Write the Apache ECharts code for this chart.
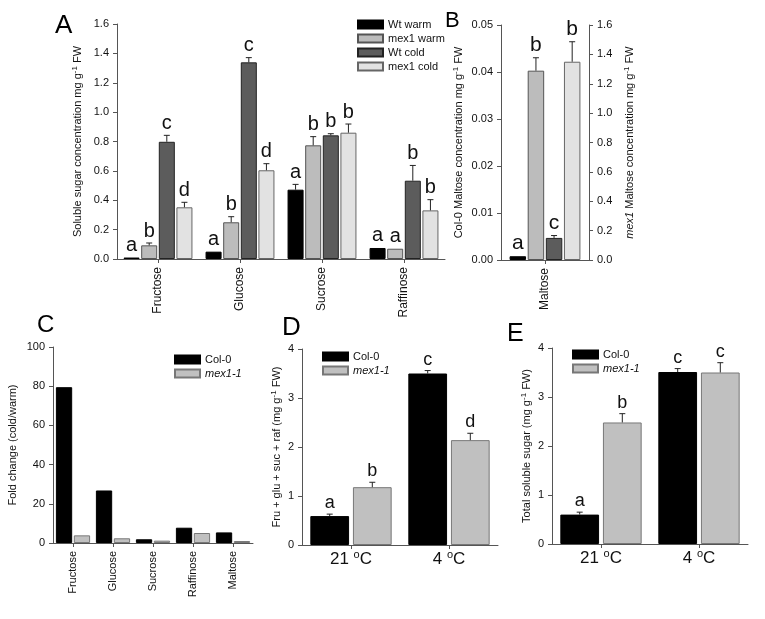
<!DOCTYPE html>
<html>
<head>
<meta charset="utf-8">
<script src="https://cdn.jsdelivr.net/npm/echarts@6/dist/echarts.min.js"></script>
<style>html,body{margin:0;padding:0;background:#fff}#c{width:765px;height:619px}</style>
</head>
<body>
<div id="c"></div>
<script>
// ---------- Panel A data ----------
const sugarsA = ['Fructose', 'Glucose', 'Sucrose', 'Raffinose'];
const wtWarm = [0.010, 0.050, 0.472, 0.075];
const wtWarmErr = [0.002, 0.004, 0.036, 0.003];
const wtWarmSig = ['a', 'a', 'a', 'a'];
const mexWarm = [0.093, 0.250, 0.774, 0.070];
const mexWarmErr = [0.016, 0.038, 0.059, 0.003];
const mexWarmSig = ['b', 'b', 'b', 'a'];
const wtCold = [0.798, 1.339, 0.842, 0.533];
const wtColdErr = [0.044, 0.032, 0.011, 0.104];
const wtColdSig = ['c', 'c', 'b', 'b'];
const mexCold = [0.352, 0.604, 0.860, 0.331];
const mexColdErr = [0.034, 0.045, 0.059, 0.073];
const mexColdSig = ['d', 'd', 'b', 'b'];
const yTicksA = [0, 1.6, 0.2];

// ---------- Panel B data ----------
const maltoseCat = ['Maltose'];
const maltWtWarm = [0.0008], maltWtWarmErr = [0.0001], maltWtWarmSig = ['a'];
const maltMexWarm = [1.289], maltMexWarmErr = [0.088], maltMexWarmSig = ['b'];
const maltWtCold = [0.0047], maltWtColdErr = [0.0005], maltWtColdSig = ['c'];
const maltMexCold = [1.350], maltMexColdErr = [0.136], maltMexColdSig = ['b'];
const yTicksBLeft = [0, 0.05, 0.01];
const yTicksBRight = [0, 1.6, 0.2];

// ---------- Panel C data ----------
const foldCats = ['Fructose', 'Glucose', 'Sucrose', 'Raffinose', 'Maltose'];
const foldCol0 = [79.5, 26.8, 1.9, 7.8, 5.4];
const foldMex = [3.9, 2.4, 1.2, 5.1, 1.0];
const yTicksC = [0, 100, 20];

// ---------- Panel D data ----------
const tempCats = ['21', '4'];
const sumCol0 = [0.59, 3.50], sumCol0Err = [0.04, 0.06], sumCol0Sig = ['a', 'c'];
const sumMex = [1.18, 2.14], sumMexErr = [0.10, 0.14], sumMexSig = ['b', 'd'];
const yTicksD = [0, 4, 1];

// ---------- Panel E data ----------
const totCol0 = [0.60, 3.51], totCol0Err = [0.05, 0.07], totCol0Sig = ['a', 'c'];
const totMex = [2.48, 3.50], totMexErr = [0.18, 0.20], totMexSig = ['b', 'c'];
const yTicksE = [0, 4, 1];

// ---------- styles ----------
const FONT = 'Liberation Sans, Arial, sans-serif';
const TXT = '#111';
const AX = '#555';
const S = {
  wtWarm: { color: '#000', borderColor: '#000', borderWidth: 1 },
  mexWarm: { color: '#bcbcbc', borderColor: '#555', borderWidth: 1 },
  wtCold: { color: '#5c5c5c', borderColor: '#222', borderWidth: 1 },
  mexCold: { color: '#e2e2e2', borderColor: '#666', borderWidth: 1 },
  col0: { color: '#000', borderColor: '#000', borderWidth: 1 },
  mex: { color: '#c0c0c0', borderColor: '#777', borderWidth: 1 }
};

function errSeries(xi, yi, vals, errs, sig, n, i, catGap, barGap, fs) {
  return {
    type: 'custom', xAxisIndex: xi, yAxisIndex: yi, silent: true, z: 5,
    name: 'err' + xi + '_' + yi + '_' + i,
    data: vals.map((v, k) => [k, v, errs[k]]),
    encode: { x: 0, y: 1 },
    renderItem: function (params, api) {
      const cat = api.value(0), v = api.value(1), e = api.value(2);
      const base = api.coord([cat, v]);
      const top = api.coord([cat, v + e]);
      const band = api.size([1, 0])[0];
      const total = band * (1 - catGap);
      const w = total / (n + (n - 1) * barGap);
      const x = base[0] - total / 2 + i * w * (1 + barGap) + w / 2;
      const children = [];
      if (base[1] - top[1] > 0.8) {
        children.push({ type: 'line', shape: { x1: x, y1: base[1], x2: x, y2: top[1] }, style: { stroke: '#222', lineWidth: 1 } });
        children.push({ type: 'line', shape: { x1: x - 3, y1: top[1], x2: x + 3, y2: top[1] }, style: { stroke: '#222', lineWidth: 1 } });
      }
      children.push({ type: 'text', style: { text: sig[params.dataIndex], x: x, y: top[1] - 2, align: 'center', verticalAlign: 'bottom', fontSize: fs, fontFamily: FONT, fill: TXT } });
      return { type: 'group', children: children };
    }
  };
}

function bar(name, xi, yi, data, style, catGap, barGap) {
  return {
    type: 'bar', name: name, xAxisIndex: xi, yAxisIndex: yi, data: data,
    itemStyle: style, barCategoryGap: (catGap * 100) + '%', barGap: (barGap * 100) + '%',
    animation: false
  };
}

const supRich = {
  sup: { fontSize: 8, verticalAlign: 'top', fontFamily: FONT, color: TXT, lineHeight: 14 },
  it: { fontStyle: 'italic', fontSize: 11, fontFamily: FONT, color: TXT, lineHeight: 14 }
};
function nameStyle(fs) {
  return { fontSize: fs, fontFamily: FONT, color: TXT, lineHeight: 14, rich: supRich };
}

function yAxis(gi, t, fmt, extra) {
  return Object.assign({
    type: 'value', gridIndex: gi, min: t[0], max: t[1], interval: t[2],
    splitLine: { show: false },
    axisLine: { show: true, lineStyle: { color: AX, width: 1 } },
    axisTick: { show: true, length: 4, inside: false, lineStyle: { color: AX } },
    axisLabel: { fontSize: 11, fontFamily: FONT, color: TXT, margin: 8, formatter: fmt },
    nameLocation: 'middle', nameRotate: 90
  }, extra || {});
}
function xAxis(gi, cats, labelExtra) {
  return {
    type: 'category', gridIndex: gi, data: cats,
    axisLine: { show: true, lineStyle: { color: AX, width: 1 } },
    axisTick: { show: true, alignWithLabel: true, length: 4, lineStyle: { color: AX } },
    axisLabel: Object.assign({ fontSize: 12, fontFamily: FONT, color: TXT, interval: 0, rotate: 90, margin: 8 }, labelExtra || {})
  };
}

const gA = [0.16, 0.1], gB = [0.195, 0.1], gC = [0.145, 0.1], gD = [0.17, 0.1];

const legendText = { fontSize: 11, fontFamily: FONT, color: TXT, rich: { it: { fontStyle: 'italic', fontSize: 11, fontFamily: FONT, color: TXT } } };
function smallLegend(left, top) {
  return { data: ['Col-0', 'mex1-1'], orient: 'vertical', left: left, top: top,
    itemWidth: 25, itemHeight: 8, itemGap: 3, icon: 'rect', selectedMode: false,
    formatter: n => n === 'mex1-1' ? '{it|mex1-1}' : n, textStyle: legendText };
}

const option = {
  animation: false,
  backgroundColor: '#fff',
  textStyle: { fontFamily: FONT },
  grid: [
    { left: 117, top: 24, width: 328, height: 235, outerBoundsMode: 'none' },
    { left: 501, top: 25, width: 88, height: 235, outerBoundsMode: 'none' },
    { left: 53, top: 347, width: 200, height: 196, outerBoundsMode: 'none' },
    { left: 302, top: 349, width: 196, height: 196, outerBoundsMode: 'none' },
    { left: 552, top: 348, width: 196, height: 196, outerBoundsMode: 'none' }
  ],
  xAxis: [
    xAxis(0, sugarsA),
    xAxis(1, maltoseCat),
    xAxis(2, foldCats, { fontSize: 11 }),
    xAxis(3, tempCats, { rotate: 0, fontSize: 17, margin: 4, formatter: v => v + ' {s|o}C',
      rich: { s: { fontSize: 11, verticalAlign: 'top', lineHeight: 20, fontFamily: FONT, color: TXT } }, lineHeight: 20 }),
    xAxis(4, tempCats, { rotate: 0, fontSize: 17, margin: 4, formatter: v => v + ' {s|o}C',
      rich: { s: { fontSize: 11, verticalAlign: 'top', lineHeight: 20, fontFamily: FONT, color: TXT } }, lineHeight: 20 })
  ],
  yAxis: [
    yAxis(0, yTicksA, v => v.toFixed(1), { name: 'Soluble sugar concentration mg g{sup|-1} FW', nameGap: 32, nameTextStyle: nameStyle(11) }),
    yAxis(1, yTicksBLeft, v => v.toFixed(2), { name: 'Col-0 Maltose concentration mg g{sup|-1} FW', nameGap: 35, nameTextStyle: nameStyle(11) }),
    yAxis(1, yTicksBRight, v => v.toFixed(1), { position: 'right', name: '{it|mex1} Maltose concentration mg g{sup|-1} FW', nameGap: 34, nameTextStyle: nameStyle(11) }),
    yAxis(2, yTicksC, v => String(v), { name: 'Fold change (cold/warm)', nameGap: 33, nameTextStyle: nameStyle(11) }),
    yAxis(3, yTicksD, v => String(v), { name: 'Fru + glu + suc + raf (mg g{sup|-1} FW)', nameGap: 16, nameTextStyle: nameStyle(11) }),
    yAxis(4, yTicksE, v => String(v), { name: 'Total soluble sugar (mg g{sup|-1} FW)', nameGap: 16, nameTextStyle: nameStyle(11) })
  ],
  legend: [
    { data: ['Wt warm', 'mex1 warm', 'Wt cold', 'mex1 cold'], orient: 'vertical', left: 352, top: 14,
      itemWidth: 25, itemHeight: 8, itemGap: 3, icon: 'rect', selectedMode: false,
      textStyle: { fontSize: 11, fontFamily: FONT, color: TXT } },
    smallLegend(169, 349),
    smallLegend(317, 346),
    smallLegend(567, 344)
  ],
  graphic: [
    { type: 'text', left: 55, top: 13, style: { text: 'A', fontSize: 26, fontFamily: FONT, fill: '#000' } },
    { type: 'text', left: 445, top: 10, style: { text: 'B', fontSize: 22, fontFamily: FONT, fill: '#000' } },
    { type: 'text', left: 37, top: 313, style: { text: 'C', fontSize: 24, fontFamily: FONT, fill: '#000' } },
    { type: 'text', left: 282, top: 315, style: { text: 'D', fontSize: 26, fontFamily: FONT, fill: '#000' } },
    { type: 'text', left: 507, top: 322, style: { text: 'E', fontSize: 25, fontFamily: FONT, fill: '#000' } }
  ],
  series: [
    // A
    bar('Wt warm', 0, 0, wtWarm, S.wtWarm, gA[0], gA[1]),
    bar('mex1 warm', 0, 0, mexWarm, S.mexWarm, gA[0], gA[1]),
    bar('Wt cold', 0, 0, wtCold, S.wtCold, gA[0], gA[1]),
    bar('mex1 cold', 0, 0, mexCold, S.mexCold, gA[0], gA[1]),
    errSeries(0, 0, wtWarm, wtWarmErr, wtWarmSig, 4, 0, gA[0], gA[1], 20),
    errSeries(0, 0, mexWarm, mexWarmErr, mexWarmSig, 4, 1, gA[0], gA[1], 20),
    errSeries(0, 0, wtCold, wtColdErr, wtColdSig, 4, 2, gA[0], gA[1], 20),
    errSeries(0, 0, mexCold, mexColdErr, mexColdSig, 4, 3, gA[0], gA[1], 20),
    // B
    bar('Wt warm', 1, 1, maltWtWarm, S.wtWarm, gB[0], gB[1]),
    bar('mex1 warm', 1, 2, maltMexWarm, S.mexWarm, gB[0], gB[1]),
    bar('Wt cold', 1, 1, maltWtCold, S.wtCold, gB[0], gB[1]),
    bar('mex1 cold', 1, 2, maltMexCold, S.mexCold, gB[0], gB[1]),
    errSeries(1, 1, maltWtWarm, maltWtWarmErr, maltWtWarmSig, 4, 0, gB[0], gB[1], 21),
    errSeries(1, 2, maltMexWarm, maltMexWarmErr, maltMexWarmSig, 4, 1, gB[0], gB[1], 21),
    errSeries(1, 1, maltWtCold, maltWtColdErr, maltWtColdSig, 4, 2, gB[0], gB[1], 21),
    errSeries(1, 2, maltMexCold, maltMexColdErr, maltMexColdSig, 4, 3, gB[0], gB[1], 21),
    // C
    bar('Col-0', 2, 3, foldCol0, S.col0, gC[0], gC[1]),
    bar('mex1-1', 2, 3, foldMex, S.mex, gC[0], gC[1]),
    // D
    bar('Col-0', 3, 4, sumCol0, S.col0, gD[0], gD[1]),
    bar('mex1-1', 3, 4, sumMex, S.mex, gD[0], gD[1]),
    errSeries(3, 4, sumCol0, sumCol0Err, sumCol0Sig, 2, 0, gD[0], gD[1], 18),
    errSeries(3, 4, sumMex, sumMexErr, sumMexSig, 2, 1, gD[0], gD[1], 18),
    // E
    bar('Col-0', 4, 5, totCol0, S.col0, gD[0], gD[1]),
    bar('mex1-1', 4, 5, totMex, S.mex, gD[0], gD[1]),
    errSeries(4, 5, totCol0, totCol0Err, totCol0Sig, 2, 0, gD[0], gD[1], 18),
    errSeries(4, 5, totMex, totMexErr, totMexSig, 2, 1, gD[0], gD[1], 18)
  ]
};

const chart = echarts.init(document.getElementById('c'), null, { renderer: 'canvas', width: 765, height: 619 });
chart.setOption(option);
</script>
</body>
</html>
